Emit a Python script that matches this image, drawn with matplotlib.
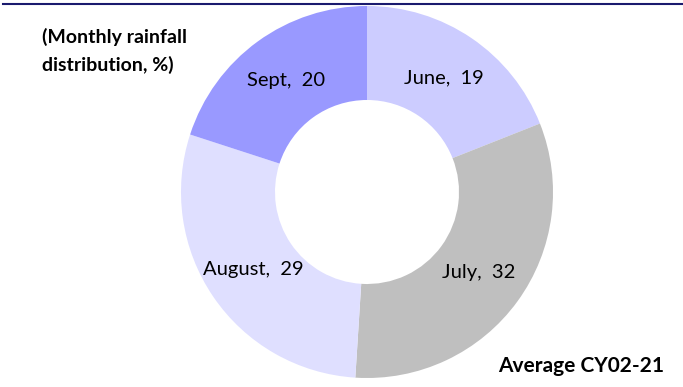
import matplotlib.pyplot as plt
from matplotlib.lines import Line2D

# monthly rainfall share, average CY02-21
months = ['June', 'July', 'August', 'Sept']
shares = [19, 32, 29, 20]
colors = ['#ccccff', '#bfbfbf', '#dfdfff', '#9999ff']

plt.rcParams['font.family'] = ['Lato', 'DejaVu Sans']

W, H = 683, 387
fig = plt.figure(figsize=(W / 100, H / 100), dpi=100)
ax = fig.add_axes([0, 0, 1, 1])
ax.set_xlim(0, W)
ax.set_ylim(0, H)
ax.set_aspect('equal')
ax.axis('off')

labels = ['%s,  %d' % (m, v) for m, v in zip(months, shares)]
wedges, texts = ax.pie(shares, colors=colors, labels=labels,
                       startangle=90, counterclock=False,
                       center=(367, H - 192), radius=186,
                       labeldistance=0.74,
                       wedgeprops=dict(width=94, linewidth=0),
                       textprops=dict(fontsize=14.5, color='black',
                                      ha='center', va='center'))
ax.set_xlim(0, W)
ax.set_ylim(0, H)

# top border line
fig.add_artist(Line2D([3 / W, 1], [1 - 4 / H, 1 - 4 / H], color='#1a1a6e', lw=1.5))

fig.text(42 / W, 1 - 28 / H, '(Monthly rainfall\ndistribution, %)',
         fontsize=14, fontweight='bold', ha='left', va='top', linespacing=1.65)
fig.text(664 / W, 1 - 366 / H, 'Average CY02-21',
         fontsize=15, fontweight='bold', ha='right', va='center')

fig.savefig('out.png', dpi=100)
